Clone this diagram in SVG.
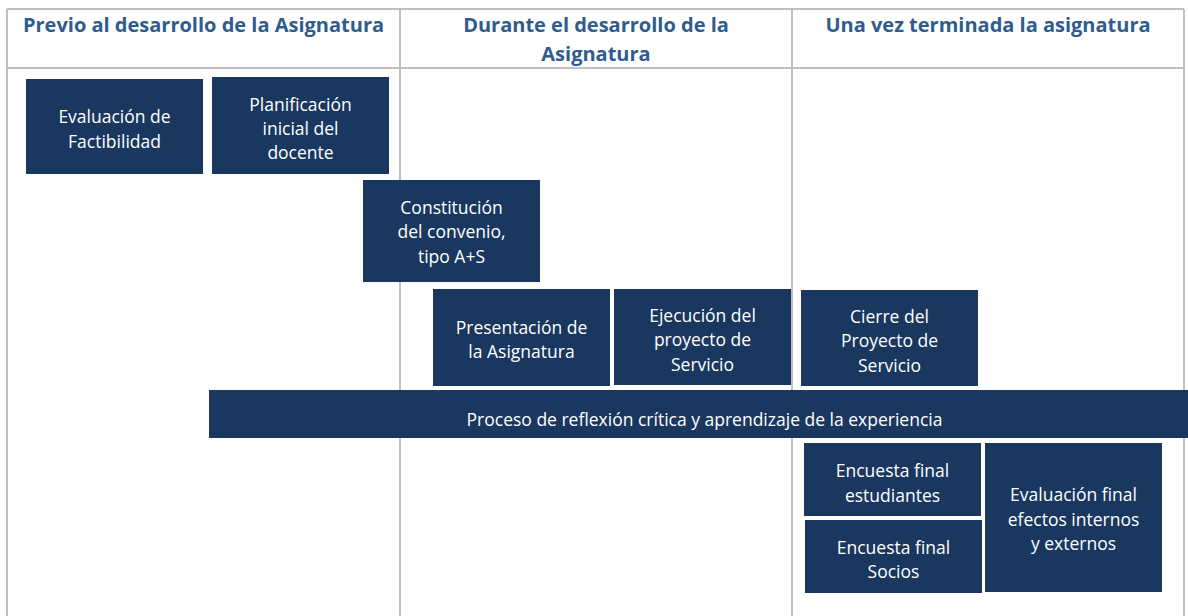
<svg xmlns="http://www.w3.org/2000/svg" width="1188" height="616" viewBox="0 0 1188 616">
<style>
.grid{stroke:#bfbfbf;stroke-width:2;fill:none}
.hd{font-family:"Open Sans","Noto Sans",sans-serif;font-weight:bold;font-size:20px;fill:#2f5c8f;text-anchor:middle}
.box{fill:#19375f}
.bt{font-family:"Open Sans","Noto Sans",sans-serif;font-size:17.5px;fill:#ffffff;text-anchor:middle}
</style>
<rect width="1188" height="616" fill="#ffffff"/>
<g id="table">
<path class="grid" d="M7,9 H1184 M7,68 H1184 M7,9 V616 M400,9 V616 M792,9 V616 M1184,9 V616"/>
</g>
<g id="headers">
<text class="hd" x="203.5" y="32">Previo al desarrollo de la Asignatura</text>
<text class="hd" x="596" y="32">Durante el desarrollo de la</text>
<text class="hd" x="596" y="61">Asignatura</text>
<text class="hd" x="988" y="32">Una vez terminada la asignatura</text>
</g>
<g id="connectors"></g>
<g id="n-factibilidad">
<rect class="box" x="26" y="79" width="177" height="95"/>
<text class="bt" x="114.5" y="123">Evaluación de</text>
<text class="bt" x="114.5" y="147.5">Factibilidad</text>
</g>
<g id="n-planificacion">
<rect class="box" x="212" y="77" width="177" height="97"/>
<text class="bt" x="300.5" y="110.5">Planificación</text>
<text class="bt" x="300.5" y="135">inicial del</text>
<text class="bt" x="300.5" y="159">docente</text>
</g>
<g id="n-constitucion">
<rect class="box" x="363" y="180" width="177" height="102"/>
<text class="bt" x="451.5" y="213.5">Constitución</text>
<text class="bt" x="451.5" y="238">del convenio,</text>
<text class="bt" x="451.5" y="263">tipo A+S</text>
</g>
<g id="n-presentacion">
<rect class="box" x="433" y="289" width="177" height="97"/>
<text class="bt" x="521.5" y="333.5">Presentación de</text>
<text class="bt" x="521.5" y="358">la Asignatura</text>
</g>
<g id="n-ejecucion">
<rect class="box" x="614" y="289" width="177" height="96"/>
<text class="bt" x="702.5" y="321.5">Ejecución del</text>
<text class="bt" x="702.5" y="346">proyecto de</text>
<text class="bt" x="702.5" y="370.5">Servicio</text>
</g>
<g id="n-cierre">
<rect class="box" x="801" y="290" width="177" height="96"/>
<text class="bt" x="889.5" y="322.5">Cierre del</text>
<text class="bt" x="889.5" y="347">Proyecto de</text>
<text class="bt" x="889.5" y="371.5">Servicio</text>
</g>
<g id="n-reflexion">
<rect class="box" x="209" y="390" width="979" height="48"/>
<text class="bt" x="704.5" y="425.5">Proceso de reflexión crítica y aprendizaje de la experiencia</text>
</g>
<g id="n-encuesta-estudiantes">
<rect class="box" x="804" y="443" width="177" height="73"/>
<text class="bt" x="892.5" y="476.5">Encuesta final</text>
<text class="bt" x="892.5" y="501.5">estudiantes</text>
</g>
<g id="n-encuesta-socios">
<rect class="box" x="805" y="520" width="177" height="73"/>
<text class="bt" x="893.5" y="553.5">Encuesta final</text>
<text class="bt" x="893.5" y="578">Socios</text>
</g>
<g id="n-evaluacion-final">
<rect class="box" x="985" y="443" width="177" height="149"/>
<text class="bt" x="1073.5" y="500.5">Evaluación final</text>
<text class="bt" x="1073.5" y="525.5">efectos internos</text>
<text class="bt" x="1073.5" y="550">y externos</text>
</g>
</svg>
